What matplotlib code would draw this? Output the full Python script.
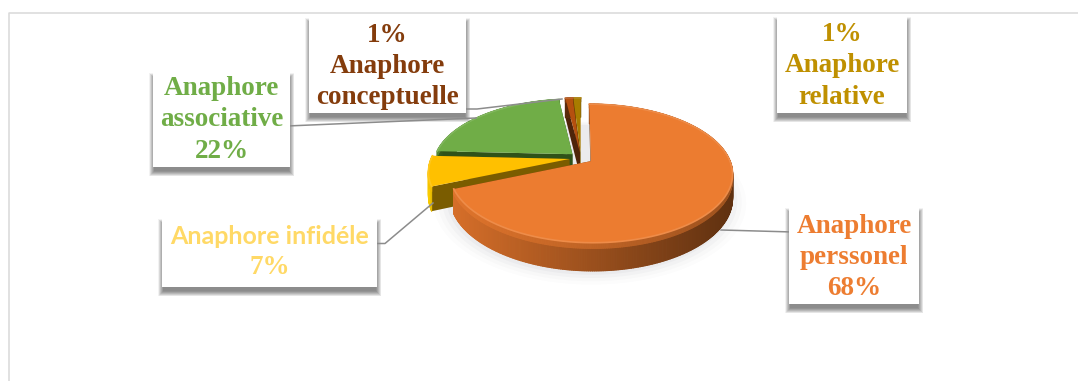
import numpy as np
import matplotlib
matplotlib.use('Agg')
import matplotlib.pyplot as plt
from matplotlib.collections import PolyCollection
from matplotlib.colors import to_rgb
from matplotlib.patches import Rectangle

# slices, clockwise from the top
names = ['Anaphore\nperssonel', 'Anaphore infidéle', 'Anaphore\nassociative',
         'Anaphore\nconceptuelle', 'Anaphore\nrelative']
values = [68, 7, 22, 1, 1]
top_colors = ['#EC7C30', '#FFC000', '#70AD47', '#B5500F', '#A87C00']
wall_light = ['#D9702A', '#FFD000', '#4F7F30', '#8A3F10', '#8A6500']
wall_dark = ['#5E3010', '#7A5C00', '#2F5219', '#5A2A0C', '#6A4F00']
cut_colors = ['#6B3A12', '#7A5C00', '#2F5219', '#4E240A', '#7A5A00']
text_colors = ['#ED7D31', '#FFD966', '#70AD47', '#843C0C', '#BF9000']

EXPLODE = 0.085
CX, CY = 581, 158
SX, SY = 138, 66
PERSP = 0.176
DEPTH = 23


def project(u, v, z=0.0):
    w = 1 + PERSP * v
    return CX + SX * u / w, CY - SY * v / w + DEPTH * z / w


def slice_angles():
    edges = np.cumsum([0] + values) / sum(values) * 2 * np.pi
    return edges[:-1], edges[1:]


def blend(a, b, t):
    a, b = np.array(to_rgb(a)), np.array(to_rgb(b))
    return tuple(a + (b - a) * t)


def draw_slice(ax, start, end, i):
    mid = (start + end) / 2
    ou, ov = EXPLODE * np.sin(mid), EXPLODE * np.cos(mid)
    th = np.linspace(start, end, max(int((end - start) * 90), 4))
    u = ou + np.sin(th)
    v = ov + np.cos(th)
    base = 3 + (4 - i)  # orange ends up in front

    # cut faces on both sides of the slice
    for k in (0, -1):
        quad = [project(ou, ov), project(u[k], v[k]), project(u[k], v[k], 1), project(ou, ov, 1)]
        ax.fill(*zip(*quad), color=cut_colors[i], lw=0, zorder=base)

    # outer wall, shaded from left to right
    polys, cols, bevel, bevel_cols = [], [], [], []
    for j in range(len(th) - 1):
        a, b = (u[j], v[j]), (u[j + 1], v[j + 1])
        polys.append([project(*a), project(*b), project(*b, 1), project(*a, 1)])
        x0 = project(*a)[0]
        if i == 0:
            t = np.clip((x0 - 445) / 290, 0, 1)
        else:
            t = np.clip((x0 - 428) / 16, 0, 1)
        cols.append(blend(wall_light[i], wall_dark[i], t))
        bevel.append([project(*a), project(*b), project(*b, 0.2), project(*a, 0.2)])
        bevel_cols.append(blend(cols[-1], top_colors[i], 0.45))
    ax.add_collection(PolyCollection(polys, facecolors=cols, edgecolors=cols, lw=0.8, zorder=base + 0.2))
    ax.add_collection(PolyCollection(bevel, facecolors=bevel_cols, edgecolors=bevel_cols, lw=0.8, zorder=base + 0.25))

    # top face
    top = [project(ou, ov)] + [project(a, b) for a, b in zip(u, v)]
    ax.fill(*zip(*top), color=top_colors[i], lw=0, zorder=base + 0.3)
    rim = np.array([project(a, b) for a, b in zip(u, v)])
    ax.plot(rim[:, 0], rim[:, 1], color=blend(top_colors[i], '#FFFFFF', 0.12), lw=1.2, zorder=base + 0.35)


def draw_box(ax, x0, y0, x1, y1):
    # soft drop shadow, then the white card
    for grow in np.arange(4.0, -1.5, -0.5):
        ax.add_patch(Rectangle((x0 - grow, y0 + 5 - grow), x1 - x0 + 2 * grow, y1 - y0 + 2 * grow,
                               facecolor='black', alpha=0.05, lw=0, zorder=8))
    ax.add_patch(Rectangle((x0, y0), x1 - x0, y1 - y0, facecolor='white', lw=0, zorder=9))


fig = plt.figure(figsize=(10.78, 3.81), dpi=100)
ax = fig.add_axes([0, 0, 1, 1])
ax.set_xlim(0, 1078)
ax.set_ylim(381, 0)
ax.axis('off')

# chart frame, only top and left show
ax.plot([9, 9, 1078], [381, 13, 13], color='#D9D9D9', lw=1.1, zorder=1)

# faint shadow under the pie
th = np.linspace(0, 2 * np.pi, 200)
for grow, alpha in zip([1.10, 1.07, 1.04, 1.01], [0.015, 0.02, 0.03, 0.04]):
    pts = [project(0.06 + grow * np.sin(t), -0.06 + grow * np.cos(t), 1.05) for t in th]
    ax.fill(*zip(*pts), color='#405060', alpha=alpha, lw=0, zorder=2)

starts, ends = slice_angles()
for i in [4, 3, 2, 1, 0]:
    draw_slice(ax, starts[i], ends[i], i)

# leader lines
leaders = [
    ([721, 793], [230, 232]),
    ([373, 385, 433], [243.5, 243.5, 203]),
    ([287, 476], [126, 118]),
    ([462, 477, 562], [109, 109, 99]),
]
for xs, ys in leaders:
    ax.plot(xs, ys, color='#8C8C8C', lw=1.1, zorder=8.5)

boxes = [(789, 207, 919, 304), (162, 218, 377, 287), (153, 72, 290, 167),
         (309, 17, 466, 113), (777, 16, 907, 113)]
pct_first = [False, False, False, True, True]
text_shift = [2, 0, 0.5, 1.5, 1.5]

serif = dict(family='Liberation Serif', fontweight='bold', fontsize=19.5, ha='center', va='center',
             linespacing=1.33, zorder=10)

for i, (x0, y0, x1, y1) in enumerate(boxes):
    draw_box(ax, x0, y0, x1, y1)
    pct = f'{values[i]}%'
    xc = (x0 + x1) / 2
    if i == 1:
        ax.text(xc, 236, names[i], family='Lato', fontweight='bold', fontsize=18, color=text_colors[i],
                ha='center', va='center', zorder=10)
        ax.text(xc, 268, pct, color=text_colors[i], **serif)
    else:
        label = f'{pct}\n{names[i]}' if pct_first[i] else f'{names[i]}\n{pct}'
        ax.text(xc, (y0 + y1) / 2 + text_shift[i], label, color=text_colors[i], **serif)

fig.savefig('out.png', dpi=100, facecolor='white')
